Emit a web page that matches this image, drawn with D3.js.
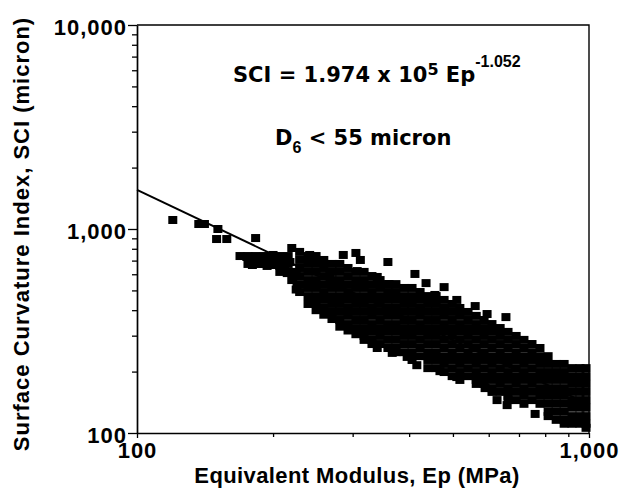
<!DOCTYPE html>
<html>
<head>
<meta charset="utf-8">
<script src="https://cdn.jsdelivr.net/npm/d3@7"></script>
<style>
  body { margin: 0; background: #fff; }
  svg text { font-family: "Liberation Sans", Arial, sans-serif; font-weight: bold; fill: #000; }
</style>
</head>
<body>
<div id="chart"></div>
<script>
// ticks
const xMajor = [100, 1000];
const xMinor = [200, 300, 400, 500, 600, 700, 800, 900];
const yMajor = [100, 1000, 10000];
const yMinor = [200, 300, 400, 500, 600, 700, 800, 900, 2000, 3000, 4000, 5000, 6000, 7000, 8000, 9000];

// regression SCI = 1.974e5 * Ep^-1.052
const fitCoef = 1.974e5;
const fitExp = -1.052;

// points: [Ep (MPa), SCI (micron)]
const leftPoints = [
  [120, 1107], [137, 1058], [141, 1058], [151, 1000], [150, 893], [158, 893],
  [183, 903], [220, 807], [169, 737], [175, 729], [182, 729], [180, 666],
  [187, 674], [194, 721], [200, 746], [194, 659], [202, 666], [210, 705],
  [212, 644], [218, 689], [207, 659], [215, 608], [221, 582], [226, 532],
  [176, 737], [183, 737], [191, 737], [199, 737], [207, 737], [216, 737],
  [176, 674], [183, 674], [191, 674], [199, 674], [207, 674], [216, 674],
  [207, 616], [216, 616], [225, 616], [220, 562], [225, 505]
];

// main cloud, grouped by Ep: [Ep, [SCI values]]
const bandColumns = [
  [229, [772, 705, 644, 588, 537, 491]],
  [239, [737, 674, 616, 562, 514, 469, 429]],
  [249, [737, 674, 616, 562, 514, 469, 429, 400]],
  [259, [705, 644, 588, 537, 491, 449, 410, 380]],
  [270, [674, 616, 562, 514, 469, 429, 392, 362]],
  [281, [674, 616, 562, 514, 469, 429, 392, 358, 332]],
  [293, [644, 588, 537, 491, 449, 410, 375, 342, 318]],
  [305, [616, 562, 514, 469, 429, 392, 358, 327, 305]],
  [318, [616, 562, 514, 469, 429, 392, 358, 327, 299, 286]],
  [331, [588, 537, 491, 449, 410, 375, 342, 313, 286, 273]],
  [345, [562, 514, 469, 429, 392, 358, 327, 299, 273]],
  [359, [537, 491, 449, 410, 375, 342, 313, 286, 261]],
  [374, [537, 491, 449, 410, 375, 342, 313, 286, 261, 249]],
  [390, [514, 469, 429, 392, 358, 327, 299, 273, 249]],
  [406, [514, 469, 429, 392, 358, 327, 299, 273, 249, 228]],
  [423, [491, 449, 410, 375, 342, 313, 286, 261, 238]],
  [440, [469, 429, 392, 358, 327, 299, 273, 249, 228, 208]],
  [459, [469, 429, 392, 358, 327, 299, 273, 249, 228, 208]],
  [478, [449, 410, 375, 342, 313, 286, 261, 238, 218, 199]],
  [498, [429, 392, 358, 327, 299, 273, 249, 228, 208, 190]],
  [518, [410, 375, 342, 313, 286, 261, 238, 218, 199, 182]],
  [540, [392, 358, 327, 299, 273, 249, 228, 208, 190]],
  [563, [375, 342, 313, 286, 261, 238, 218, 199, 182, 174]],
  [586, [358, 327, 299, 273, 249, 228, 208, 190, 174]],
  [610, [342, 313, 286, 261, 238, 218, 199, 182, 166, 159]],
  [636, [327, 299, 273, 249, 228, 208, 190, 174, 159]],
  [662, [313, 286, 261, 238, 218, 199, 182, 166, 152, 145]],
  [690, [299, 273, 249, 228, 208, 190, 174, 159, 145]],
  [718, [286, 261, 238, 218, 199, 182, 166, 152, 139]],
  [748, [273, 249, 228, 208, 190, 174, 159, 145]],
  [779, [261, 238, 218, 199, 182, 166, 152, 139]],
  [812, [238, 218, 199, 182, 166, 152, 139, 127, 121]],
  [846, [218, 199, 182, 166, 152, 139, 127, 116]],
  [881, [218, 199, 182, 166, 152, 139, 127, 116, 111]],
  [917, [208, 190, 174, 159, 145, 133, 121, 111]],
  [955, [208, 190, 174, 159, 145, 133, 121, 111]],
  [985, [208, 190, 174, 159, 145, 133, 121, 111, 106]]
];

const upperOutliers = [
  [241, 746], [258, 689], [267, 595], [286, 746], [305, 763], [312, 705],
  [307, 622], [340, 582], [359, 689], [361, 537], [412, 602], [436, 543],
  [478, 519], [456, 475], [510, 449], [560, 419], [595, 383], [655, 370]
];

const lowerOutliers = [
  [340, 261], [367, 247], [396, 236], [416, 215], [468, 201], [510, 188],
  [589, 166], [626, 145], [659, 137], [760, 124]
];

const points = leftPoints
  .concat(bandColumns.flatMap(([ep, list]) => list.map((s) => [ep, s])))
  .concat(upperOutliers, lowerOutliers);

const width = 622;
const height = 492;
const margin = { top: 25, right: 33, bottom: 59, left: 137 };
const plotW = width - margin.left - margin.right;
const plotH = height - margin.top - margin.bottom;

const x = d3.scaleLog().domain([100, 1000]).range([0, plotW]);
const y = d3.scaleLog().domain([100, 10000]).range([plotH, 0]);

const svg = d3
  .select("#chart")
  .append("svg")
  .attr("width", width)
  .attr("height", height);

const g = svg
  .append("g")
  .attr("transform", `translate(${margin.left},${margin.top})`);

// markers
g.selectAll(".pt")
  .data(points)
  .enter()
  .append("rect")
  .attr("class", "pt")
  .attr("x", (d) => x(d[0]) - 4.5)
  .attr("y", (d) => y(d[1]) - 4)
  .attr("width", 9)
  .attr("height", 8)
  .attr("fill", "#000");

// fit line
const line = d3
  .line()
  .x((d) => x(d))
  .y((d) => y(fitCoef * Math.pow(d, fitExp)));

g.append("path")
  .datum(xMajor)
  .attr("d", line)
  .attr("fill", "none")
  .attr("stroke", "#000")
  .attr("stroke-width", 2);

// frame top and right
g.append("path")
  .attr("d", `M0,0H${plotW}V${plotH}`)
  .attr("fill", "none")
  .attr("stroke", "#000")
  .attr("stroke-width", 1.4);

function styleAxis(sel) {
  sel.attr("font-family", null).attr("font-size", null);
  sel.selectAll("line").attr("stroke", "#000").attr("stroke-width", 1.3);
  sel.select(".domain").attr("stroke", "#000").attr("stroke-width", 1.7);
  sel.selectAll("text").style("font-size", "22px").style("letter-spacing", "1px");
}

// x axis
g.append("g")
  .attr("transform", `translate(0,${plotH})`)
  .call(d3.axisBottom(x).tickValues(xMinor).tickSize(4).tickFormat("").tickSizeOuter(0))
  .call((s) => s.select(".domain").remove())
  .call(styleAxis);

g.append("g")
  .attr("transform", `translate(0,${plotH})`)
  .call(d3.axisBottom(x).tickValues(xMajor).tickSize(5).tickPadding(4).tickFormat(d3.format(",")).tickSizeOuter(0))
  .call(styleAxis);

// y axis
g.append("g")
  .call(d3.axisLeft(y).tickValues(yMinor).tickSize(5).tickFormat("").tickSizeOuter(0))
  .call((s) => s.select(".domain").remove())
  .call(styleAxis);

g.append("g")
  .call(d3.axisLeft(y).tickValues(yMajor).tickSize(9).tickPadding(1).tickFormat(d3.format(",")).tickSizeOuter(0))
  .call(styleAxis)
  .call((s) => s.selectAll("text").attr("dy", "0.42em"));

// axis titles
svg.append("text")
  .attr("x", 357)
  .attr("y", 483)
  .attr("text-anchor", "middle")
  .style("font-size", "22px")
  .style("letter-spacing", "0.4px")
  .text("Equivalent Modulus, Ep (MPa)");

svg.append("text")
  .attr("transform", "translate(29,234) rotate(-90)")
  .attr("text-anchor", "middle")
  .style("font-size", "22px")
  .style("letter-spacing", "1px")
  .text("Surface Curvature Index, SCI (micron)");

// equation
const eq = svg.append("text")
  .attr("x", 233)
  .attr("y", 82)
  .style("font-family", "'DejaVu Sans', sans-serif")
  .style("font-size", "21px");
eq.append("tspan").text("SCI = 1.974 x 10");
eq.append("tspan").attr("dy", -7).style("font-size", "16px").text("5");
eq.append("tspan").attr("dy", 7).text(" Ep");
eq.append("tspan")
  .attr("dy", -15)
  .style("font-family", "'Liberation Sans', Arial, sans-serif")
  .style("font-size", "16px")
  .text("-1.052");

const cond = svg.append("text")
  .attr("x", 275)
  .attr("y", 145)
  .style("font-family", "'DejaVu Sans', sans-serif")
  .style("font-size", "21px");
cond.append("tspan").text("D");
cond.append("tspan")
  .attr("dy", 8)
  .style("font-family", "'Liberation Sans', Arial, sans-serif")
  .style("font-size", "16px")
  .text("6");
cond.append("tspan").attr("dy", -8).text(" < 55 micron");
</script>
</body>
</html>
